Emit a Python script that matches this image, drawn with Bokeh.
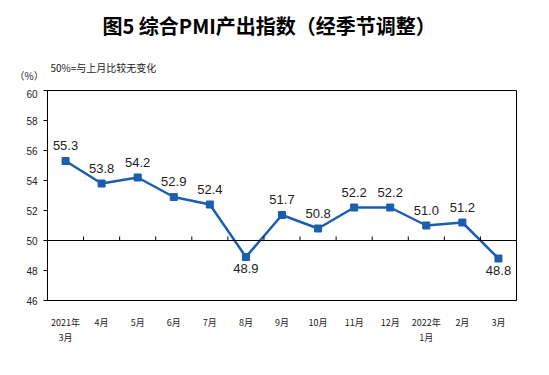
from bokeh.plotting import figure
from bokeh.layouts import column
from bokeh.models import ColumnDataSource, Span, FixedTicker, Range1d
from bokeh.core.properties import value
from bokeh.embed import file_html
from bokeh.resources import INLINE

months = ["2021年\n3月", "4月", "5月", "6月", "7月", "8月", "9月", "10月", "11月", "12月", "2022年\n1月", "2月", "3月"]
pmi = [55.3, 53.8, 54.2, 52.9, 52.4, 48.9, 51.7, 50.8, 52.2, 52.2, 51.0, 51.2, 48.8]
y_ticks = [46, 48, 50, 52, 54, 56, 58, 60]
title_text = "图5 综合PMI产出指数（经季节调整）"
note_text = "50%=与上月比较无变化"
unit_text = "（%）"

W = 533
HEAD = 89

# ---- heading strip (pixel coordinates, y downwards) ----
head = figure(width=W, height=HEAD, x_range=Range1d(0, W), y_range=Range1d(HEAD, 0),
              output_backend="svg", toolbar_location=None, x_axis_type=None, y_axis_type=None,
              min_border=0, min_border_left=0, min_border_right=0, min_border_top=0, min_border_bottom=0)
head.frame_align = False
head.grid.grid_line_color = None
head.outline_line_color = None
head.text(x=[102], y=[25], text=[title_text], text_align="left", text_baseline="middle",
          text_font=value("Noto Sans CJK SC"), text_font_size="20px", text_font_style="bold",
          text_color="black")
head.text(x=[50], y=[67], text=[note_text], text_align="left", text_baseline="middle",
          text_font=value("Noto Sans CJK SC"), text_font_size="10px", text_color="#222222")
head.text(x=[14], y=[75], text=[unit_text], text_align="left", text_baseline="middle",
          text_font=value("Noto Sans CJK SC"), text_font_size="10px", text_color="#222222")

# ---- main chart ----
xs = [i + 0.5 for i in range(len(pmi))]
labels = ["%.1f" % v for v in pmi]
above = [v >= 50 for v in pmi]

p = figure(width=W, height=270, x_range=(0, len(pmi)), y_range=(46, 60),
           output_backend="svg", toolbar_location=None,
           min_border_left=47, min_border_right=17, min_border_top=1, min_border_bottom=59)
p.frame_align = False
p.grid.grid_line_color = None
p.outline_line_color = "black"
p.outline_line_width = 1
p.background_fill_color = "white"

blue = "#1b5eb0"
src = ColumnDataSource(dict(x=xs, y=pmi))
p.line("x", "y", source=src, line_color=blue, line_width=2.5)
p.scatter("x", "y", source=src, marker="square", size=7, fill_color=blue, line_color=blue)

src_up = ColumnDataSource(dict(x=[x for x, a in zip(xs, above) if a],
                               y=[v for v, a in zip(pmi, above) if a],
                               t=[t for t, a in zip(labels, above) if a]))
src_dn = ColumnDataSource(dict(x=[x for x, a in zip(xs, above) if not a],
                               y=[v for v, a in zip(pmi, above) if not a],
                               t=[t for t, a in zip(labels, above) if not a]))
p.text("x", "y", text="t", source=src_up, text_align="center", text_baseline="bottom",
       y_offset=-11, text_font=value("Liberation Sans"), text_font_size="13px", text_color="#222222")
p.text("x", "y", text="t", source=src_dn, text_align="center", text_baseline="top",
       y_offset=7, text_font=value("Liberation Sans"), text_font_size="13px", text_color="#222222")

# 50 reference line and small category ticks on it
p.add_layout(Span(location=50, dimension="width", line_color="black", line_width=1))
bx = list(range(1, len(pmi)))
p.segment(x0=bx, x1=bx, y0=[50] * len(bx), y1=[50.27] * len(bx), line_color="black", line_width=1)

p.yaxis.ticker = FixedTicker(ticks=y_ticks)
p.yaxis.axis_line_color = "black"
p.yaxis.major_tick_out = 4
p.yaxis.major_tick_in = 0
p.yaxis.minor_tick_line_color = None
p.yaxis.major_label_text_font = "Liberation Sans"
p.yaxis.major_label_text_font_size = "10px"
p.yaxis.major_label_text_color = "#222222"
p.yaxis.major_label_standoff = 6

p.xaxis.ticker = FixedTicker(ticks=xs)
p.xaxis.major_label_overrides = {x: m for x, m in zip(xs, months)}
p.xaxis.major_tick_line_color = None
p.xaxis.minor_tick_line_color = None
p.xaxis.axis_line_color = "black"
p.xaxis.major_label_text_font = "Noto Sans CJK SC"
p.xaxis.major_label_text_font_size = "9px"
p.xaxis.major_label_text_color = "#222222"
p.xaxis.major_label_standoff = 9

layout = column(head, p, spacing=0)
open("out.html", "w").write(file_html(layout, INLINE))
